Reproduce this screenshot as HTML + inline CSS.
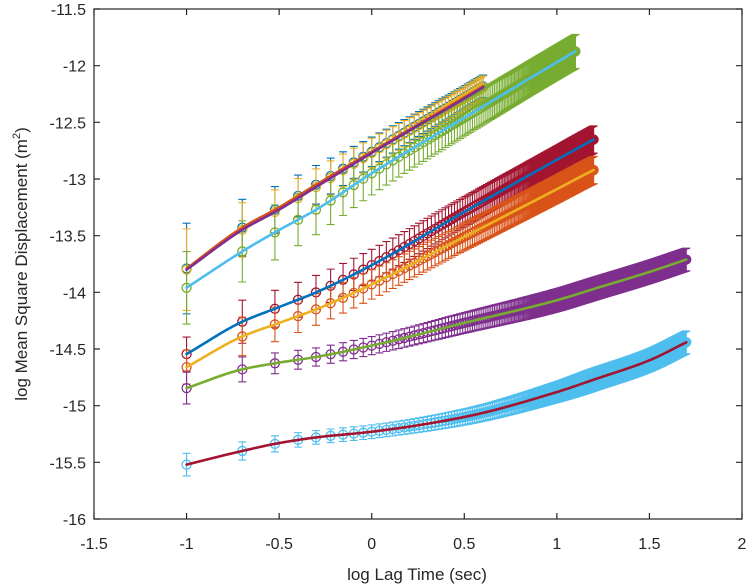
<!DOCTYPE html>
<html><head><meta charset="utf-8"><style>
body{margin:0;background:#fff;}
svg{display:block;font-family:"Liberation Sans",sans-serif;}
</style></head><body>
<svg id="chart" width="750" height="584" viewBox="0 0 750 584">
<g id="errs"></g>
<g id="fits"></g>
<g id="axes"></g>
<text x="417" y="580" text-anchor="middle" font-size="17" fill="#262626">log Lag Time (sec)</text>
<text transform="translate(27,264) rotate(-90)" text-anchor="middle" font-size="17" fill="#262626">log Mean Square Displacement (m<tspan font-size="11" dy="-7">2</tspan><tspan dy="7">)</tspan></text>
</svg>
<script>
const xTicks = [-1.5,-1,-0.5,0,0.5,1,1.5,2];
const xTickLabels = ["-1.5","-1","-0.5","0","0.5","1","1.5","2"];
const yTicks = [-16,-15.5,-15,-14.5,-14,-13.5,-13,-12.5,-12,-11.5];
const yTickLabels = ["-16","-15.5","-15","-14.5","-14","-13.5","-13","-12.5","-12","-11.5"];
// knot x positions (log lag time) for all series
const knotX = [-1,-0.7,-0.5,-0.3,0,0.5,1,1.2,1.5,1.7];
// number of lag points per series (lag = k*0.1 s)
const nPoints = [40,40,126,158,158,500,500];
const markerColors = ["#0072BD","#EDB120","#77AC30","#A2142F","#D95319","#7E2F8E","#4DBEEE"];
const fitColors   = ["#D95319","#7E2F8E","#4DBEEE","#0072BD","#EDB120","#77AC30","#A2142F"];
const s1Y = [-13.79,-13.43,-13.25,-13.05,-12.76,-12.28,-11.8,-11.6,-11.3,-11.1];
const s2Y = [-13.80,-13.45,-13.27,-13.07,-12.77,-12.29,-11.8,-11.6,-11.3,-11.1];
const s3Y = [-13.96,-13.64,-13.45,-13.27,-12.95,-12.46,-11.97,-11.78,-11.5,-11.3];
const s4Y = [-14.545,-14.26,-14.13,-14.00,-13.76,-13.29,-12.83,-12.65,-12.4,-12.2];
const s5Y = [-14.66,-14.39,-14.27,-14.15,-13.93,-13.51,-13.09,-12.92,-12.7,-12.5];
const s6Y = [-14.845,-14.68,-14.62,-14.57,-14.47,-14.27,-14.07,-13.97,-13.82,-13.71];
const s7Y = [-15.52,-15.40,-15.33,-15.28,-15.23,-15.10,-14.88,-14.77,-14.60,-14.44];
const s1E = [0.40,0.25,0.20,0.17,0.13,0.10,0.10,0.10,0.10,0.10];
const s2E = [0.36,0.24,0.19,0.16,0.13,0.10,0.10,0.10,0.10,0.10];
const s3E = [0.32,0.27,0.24,0.22,0.19,0.16,0.15,0.15,0.15,0.15];
const s4E = [0.15,0.19,0.16,0.15,0.14,0.13,0.12,0.12,0.12,0.12];
const s5E = [0.15,0.17,0.15,0.14,0.13,0.12,0.12,0.12,0.12,0.12];
const s6E = [0.14,0.11,0.09,0.08,0.08,0.09,0.10,0.10,0.10,0.10];
const s7E = [0.10,0.08,0.07,0.06,0.06,0.07,0.09,0.10,0.10,0.10];
const seriesY = [s1Y,s2Y,s3Y,s4Y,s5Y,s6Y,s7Y];
const seriesE = [s1E,s2E,s3E,s4E,s5E,s6E,s7E];

const X0=94, X1=742, Y0=519, Y1=9;
function sx(v){return X0+(v-(-1.5))/(2-(-1.5))*(X1-X0);}
function sy(v){return Y0-(v-(-16))/((-11.5)-(-16))*(Y0-Y1);}
// monotone cubic (Fritsch-Carlson) interpolation through knots
function interp(arr,x){
  const n=knotX.length;
  if(x<=knotX[0])return arr[0];
  if(x>=knotX[n-1])return arr[n-1];
  const h=[],dl=[];
  for(let i=0;i<n-1;i++){h.push(knotX[i+1]-knotX[i]);dl.push((arr[i+1]-arr[i])/h[i]);}
  const m=[dl[0]];
  for(let i=1;i<n-1;i++){
    if(dl[i-1]*dl[i]<=0)m.push(0);
    else{const w1=2*h[i]+h[i-1],w2=h[i]+2*h[i-1];m.push((w1+w2)/(w1/dl[i-1]+w2/dl[i]));}
  }
  m.push(dl[n-2]);
  let i=0;while(x>knotX[i+1])i++;
  const t=(x-knotX[i])/h[i],t2=t*t,t3=t2*t;
  return (2*t3-3*t2+1)*arr[i]+(t3-2*t2+t)*h[i]*m[i]+(-2*t3+3*t2)*arr[i+1]+(t3-t2)*h[i]*m[i+1];
}
const NS="http://www.w3.org/2000/svg";
function mk(tag,attrs,parent){const e=document.createElementNS(NS,tag);for(const k in attrs)e.setAttribute(k,attrs[k]);parent.appendChild(e);return e;}

const errs=document.getElementById('errs'), fits=document.getElementById('fits'), axes=document.getElementById('axes');
for(let s=0;s<seriesY.length;s++){
  const g=mk('g',{},errs);
  
  
  let d='', circ='';
  for(let k=1;k<=nPoints[s];k++){
    const x=Math.log10(k/10), y=interp(seriesY[s],x), e=interp(seriesE[s],x);
    const px=sx(x), pt=sy(y+e), pb=sy(y-e), py=sy(y);
    d+=`M${px.toFixed(2)} ${pt.toFixed(2)}V${pb.toFixed(2)}M${(px-4).toFixed(2)} ${pt.toFixed(2)}h8M${(px-4).toFixed(2)} ${pb.toFixed(2)}h8`;
    circ+=`M${(px-4.5).toFixed(2)} ${py.toFixed(2)}a4.5 4.5 0 1 0 9 0a4.5 4.5 0 1 0 -9 0`;
  }
  const p=mk('path',{d:d,stroke:markerColors[s],'stroke-width':1.1,fill:'none'},g);
  
  
  const c=mk('path',{d:circ,stroke:markerColors[s],'stroke-width':1.3,fill:'none'},g);
  
  
}
for(let s=0;s<seriesY.length;s++){
  let d='';
  const xEnd=Math.log10(nPoints[s]/10);
  for(let i=0;i<=200;i++){
    const x=-1+(xEnd+1)*i/200;
    d+=(i?'L':'M')+sx(x).toFixed(2)+' '+sy(interp(seriesY[s],x)).toFixed(2);
  }
  const p=mk('path',{d:d,stroke:fitColors[s],'stroke-width':2.6,fill:'none','stroke-linecap':'round'},fits);
  
  
}
const box=mk('rect',{x:X0,y:Y1,width:X1-X0,height:Y0-Y1,fill:'none',stroke:'#262626','stroke-width':1.2},axes);


xTicks.forEach((v,i)=>{
  const px=sx(v);
  mk('path',{d:`M${px} ${Y0}v-6M${px} ${Y1}v6`,stroke:'#262626','stroke-width':1.2},axes);
  const t=mk('text',{x:px,y:Y0+30,'text-anchor':'middle','font-size':16,fill:'#262626'},axes);
  t.textContent=xTickLabels[i];
  
  
});
yTicks.forEach((v,i)=>{
  const py=sy(v);
  mk('path',{d:`M${X0} ${py}h6M${X1} ${py}h-6`,stroke:'#262626','stroke-width':1.2},axes);
  const t=mk('text',{x:X0-8,y:py+6,'text-anchor':'end','font-size':16,fill:'#262626'},axes);
  t.textContent=yTickLabels[i];
  
  
});
</script>
</body></html>
